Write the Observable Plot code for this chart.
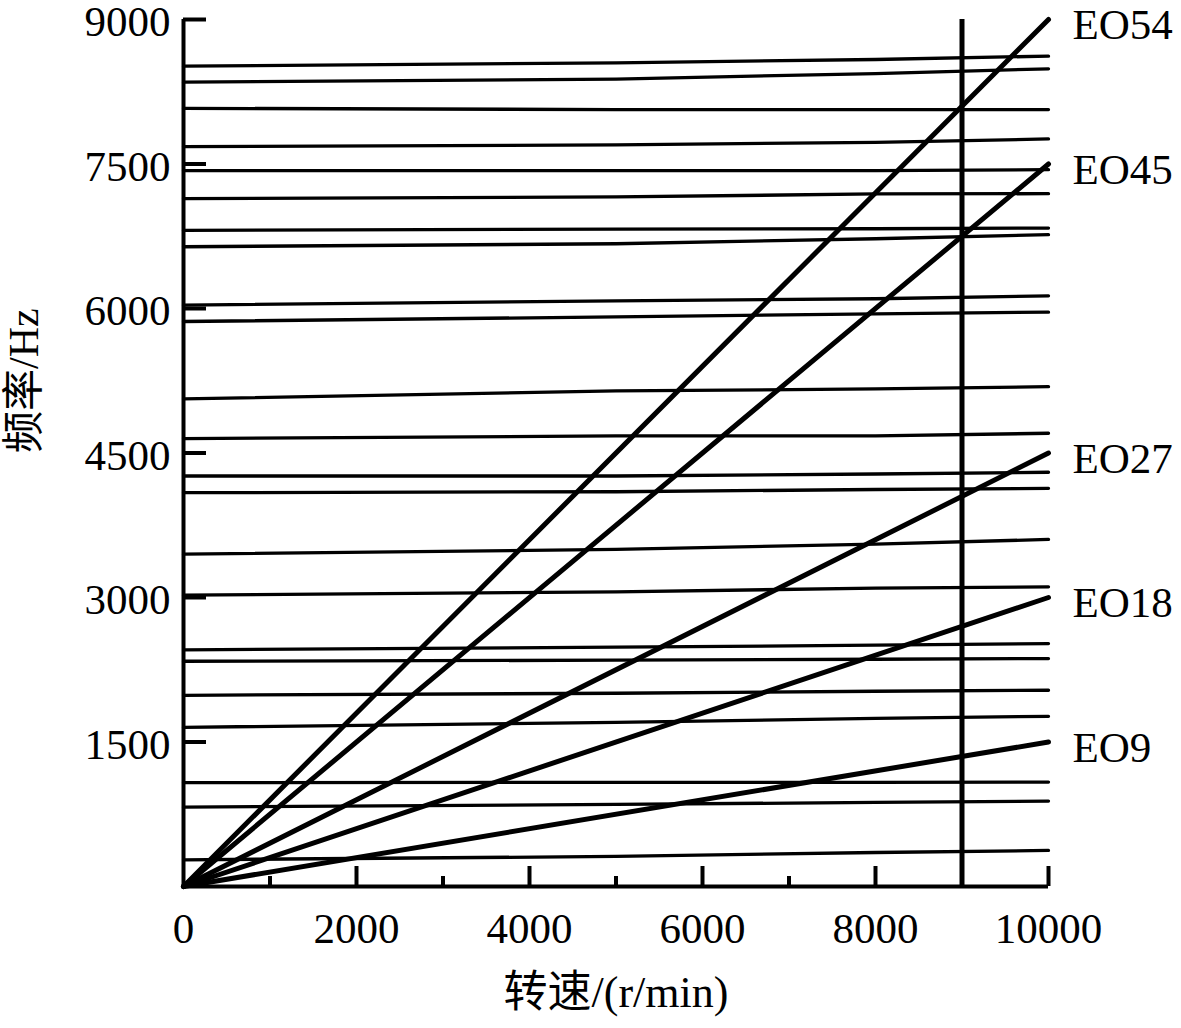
<!DOCTYPE html>
<html>
<head>
<meta charset="utf-8">
<script src="https://cdn.jsdelivr.net/npm/d3@7"></script>
<script src="https://cdn.jsdelivr.net/npm/@observablehq/plot@0.6"></script>
<style>
  html, body { margin: 0; padding: 0; background: #fff; }
</style>
</head>
<body>
<div id="chart"></div>
<script>
// Rotor speeds (r/min) at which natural frequencies were read
const speeds = [0, 5000, 8000, 10000];

// Natural frequencies (Hz) of each mode at those speeds
const freqAt0     = [8515, 8349, 8078, 7680, 7431, 7140, 6811, 6641, 6035, 5865, 5061, 4649, 4261, 4088, 3450, 3024, 2456, 2338, 1985, 1652, 1078, 824, 277];
const freqAt5000  = [8550, 8382, 8065, 7698, 7431, 7158, 6825, 6672, 6080, 5913, 5144, 4677, 4261, 4098, 3499, 3059, 2484, 2349, 2006, 1704, 1081, 852, 312];
const freqAt8000  = [8585, 8439, 8065, 7725, 7431, 7189, 6828, 6724, 6101, 5945, 5165, 4677, 4282, 4121, 3554, 3097, 2505, 2359, 2027, 1746, 1081, 873, 353];
const freqAt10000 = [8620, 8488, 8065, 7760, 7441, 7192, 6835, 6766, 6132, 5962, 5189, 4705, 4300, 4133, 3603, 3111, 2522, 2366, 2037, 1767, 1084, 887, 374];

// Engine-order excitation lines: order and frequency reached at 10000 r/min
const eoOrders = [9, 18, 27, 45, 54];
const eoEndFreq = [1500, 3000, 4500, 7500, 9000];
const eoStartSpeed = 0;
const eoEndSpeed = 10000;

// Operating speed marker
const operatingSpeed = [9000];

// Axis ticks and labels
const xLabelTicks = [0, 2000, 4000, 6000, 8000, 10000];
const xMinorTicks = [1000, 3000, 5000, 7000, 9000];
const xMajorTicks = [2000, 4000, 6000, 8000, 10000];
const yTicks = [1500, 3000, 4500, 6000, 7500, 9000];
const xTitle = "转速/(r/min)";
const yTitle = "频率/Hz";

// Build tables
const freqColumns = [freqAt0, freqAt5000, freqAt8000, freqAt10000];
const modeRows = [];
freqAt0.forEach((_, m) => {
  speeds.forEach((s, k) => modeRows.push({mode: m, speed: s, freq: freqColumns[k][m]}));
});
const eoRows = [];
eoOrders.forEach((eo, i) => {
  eoRows.push({eo, speed: eoStartSpeed, freq: 0});
  eoRows.push({eo, speed: eoEndSpeed, freq: eoEndFreq[i]});
});
const eoLabels = eoOrders.map((eo, i) => ({label: "EO" + eo, speed: eoEndSpeed, freq: eoEndFreq[i]}));

const W = 1181, H = 1028;
const mL = 183, mR = 133, mT = 19, mB = 142;
const frameW = W - mL - mR, frameH = H - mT - mB;
const font = "'Liberation Serif', 'Times New Roman', 'Noto Sans CJK SC', serif";
const fs = 43;

const chart = Plot.plot({
  width: W,
  height: H,
  marginLeft: mL,
  marginRight: mR,
  marginTop: mT,
  marginBottom: mB,
  style: {fontFamily: font, fontSize: fs + "px", background: "#fff", color: "#000", overflow: "visible"},
  x: {domain: [0, 10000], axis: null},
  y: {domain: [0, 9000], axis: null},
  marks: [
    // natural frequency lines
    Plot.line(modeRows, {x: "speed", y: "freq", z: "mode", stroke: "#000", strokeWidth: 3.3}),
    // operating speed line
    Plot.ruleX(operatingSpeed, {stroke: "#000", strokeWidth: 5}),
    // engine order lines
    Plot.line(eoRows, {x: "speed", y: "freq", z: "eo", stroke: "#000", strokeWidth: 5}),
    // axes lines
    Plot.ruleX([0], {stroke: "#000", strokeWidth: 4}),
    Plot.ruleY([0], {stroke: "#000", strokeWidth: 4}),
    // inward ticks
    Plot.tickY(yTicks, {y: d => d, stroke: "#000", strokeWidth: 4, insetRight: frameW - 23}),
    Plot.tickX(xMajorTicks, {x: d => d, stroke: "#000", strokeWidth: 4, insetTop: frameH - 20}),
    Plot.tickX(xMinorTicks, {x: d => d, stroke: "#000", strokeWidth: 4, insetTop: frameH - 10}),
    // tick labels
    Plot.axisX({ticks: xLabelTicks, tickSize: 0, tickPadding: 26, label: null, tickFormat: d => `${d}`, fontSize: fs}),
    Plot.axisY({ticks: yTicks, tickSize: 0, tickPadding: 13, label: null, tickFormat: d => `${d}`, fontSize: fs, dy: 3}),
    // EO labels
    Plot.text(eoLabels, {x: "speed", y: "freq", text: "label", textAnchor: "start", dx: 24, dy: 6, fontSize: fs, fill: "#000"}),
    // axis titles
    Plot.text([xTitle], {frameAnchor: "bottom", dy: 120, fontSize: 44, fill: "#000"}),
    Plot.text([yTitle], {frameAnchor: "left", dx: -159, rotate: -90, fontSize: 42, fill: "#000"})
  ]
});
document.getElementById("chart").appendChild(chart);
</script>
</body>
</html>
